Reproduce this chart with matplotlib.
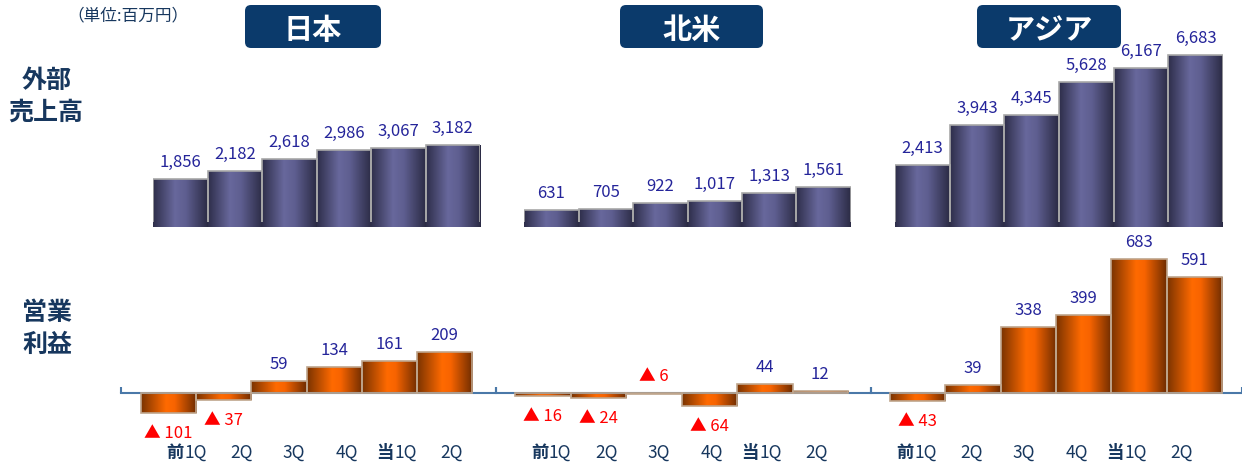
import matplotlib
matplotlib.use('Agg')
import matplotlib.pyplot as plt
import numpy as np
from matplotlib.colors import LinearSegmentedColormap
from matplotlib.patches import FancyBboxPatch

plt.rcParams['font.family'] = ['Noto Sans CJK JP', 'DejaVu Sans']

# data (百万円)
regions = ['日本', '北米', 'アジア']
quarters = ['前1Q', '2Q', '3Q', '4Q', '当1Q', '2Q']
sales_japan = [1856, 2182, 2618, 2986, 3067, 3182]
sales_na = [631, 705, 922, 1017, 1313, 1561]
sales_asia = [2413, 3943, 4345, 5628, 6167, 6683]
profit_japan = [-101, -37, 59, 134, 161, 209]
profit_na = [-16, -24, -6, -64, 44, 12]
profit_asia = [-43, 39, 338, 399, 683, 591]

sales = [sales_japan, sales_na, sales_asia]
profits = [profit_japan, profit_na, profit_asia]

W, H = 1242, 464
NAVY = '#17375E'
VALUE_BLUE = '#25259A'
AXIS_BLUE = '#4A78A8'

# layout in pixels (left, right)
top_x = [(153, 480), (524, 851), (895, 1223)]
bot_x = [(121, 496, 141, 472), (496, 871, 515, 848), (871, 1242, 890, 1222)]
head_x = [(245, 381), (620, 763), (977, 1121)]
tick_x0 = [189, 554, 919]

sales_cmap = LinearSegmentedColormap.from_list(
    'sales', [(0, '#2E2E4A'), (0.4, '#68689C'), (0.6, '#5E5E90'), (1, '#2B2B44')])
profit_cmap = LinearSegmentedColormap.from_list(
    'profit', [(0, '#7A3300'), (0.45, '#FF6A00'), (0.6, '#F86400'), (1, '#6E2C00')])


def rect(x0, x1, y0, y1):
    # pixel box with top-left origin -> figure fraction rect
    return [x0 / W, 1 - y1 / H, (x1 - x0) / W, (y1 - y0) / H]


def gradient_bars(ax, values, cmap, edge):
    bars = ax.bar(range(len(values)), values, width=1.0, facecolor='none',
                  edgecolor=edge, linewidth=1.2, zorder=3)
    grad = np.linspace(0, 1, 256).reshape(1, -1)
    for b in bars:
        x0, y0 = b.get_x(), b.get_y()
        w, h = b.get_width(), b.get_height()
        im = ax.imshow(grad, cmap=cmap, aspect='auto',
                       extent=(x0, x0 + w, y0, y0 + h), zorder=2)
        im.set_clip_path(b)
    return bars


fig = plt.figure(figsize=(W / 100, H / 100), dpi=100)

# top row: sales
s_scale = 0.0257  # px per unit
for k in range(3):
    x0, x1 = top_x[k]
    ax = fig.add_axes(rect(x0, x1, 40, 222.5))
    gradient_bars(ax, sales[k], sales_cmap, '#A8A8A8')
    ax.set_xlim(-0.5, 5.5)
    ax.set_ylim(200, 200 + 182.5 / s_scale)
    ax.axis('off')
    for i, v in enumerate(sales[k]):
        ax.annotate(f'{v:,}', (i, v), xytext=(0, 9), textcoords='offset pixels',
                    ha='center', va='bottom', fontsize=12, color=VALUE_BLUE,
                    annotation_clip=False)

# bottom row: operating profit
p_scale = 0.196
for k in range(3):
    a0, a1, b0, b1 = bot_x[k]
    ax = fig.add_axes(rect(a0, a1, 240, 440))
    gradient_bars(ax, profits[k], profit_cmap, '#BFA58C')
    u = 6 / (b1 - b0)
    ax.set_xlim(-0.5 - (b0 - a0) * u, 5.5 + (a1 - b1) * u)
    ax.set_ylim(-(440 - 394) / p_scale, (394 - 240) / p_scale)
    for s in ['top', 'left', 'right']:
        ax.spines[s].set_visible(False)
    ax.spines['bottom'].set_position(('data', 0))
    ax.spines['bottom'].set_color(AXIS_BLUE)
    ax.spines['bottom'].set_linewidth(1.5)
    ax.set_yticks([])
    ax.set_xticks(list(ax.get_xlim()))
    ax.set_xticklabels([])
    ax.tick_params(axis='x', direction='in', length=4, width=1.5, color=AXIS_BLUE)
    ax.patch.set_visible(False)
    for i, v in enumerate(profits[k]):
        if v >= 0:
            ax.annotate(f'{v}', (i, v), xytext=(0, 9), textcoords='offset pixels',
                        ha='center', va='bottom', fontsize=12, color=VALUE_BLUE,
                        annotation_clip=False)
        elif v > -10:
            ax.annotate(f'▲ {-v}', (i, 0), xytext=(0, 9), textcoords='offset pixels',
                        ha='center', va='bottom', fontsize=12, color='#FF0000',
                        annotation_clip=False)
        else:
            ax.annotate(f'▲ {-v}', (i, v), xytext=(0, -11), textcoords='offset pixels',
                        ha='center', va='top', fontsize=12, color='#FF0000',
                        annotation_clip=False)

    # quarter labels
    for i, q in enumerate(quarters):
        cx = tick_x0[k] + 52.5 * i
        fy = 1 - 453 / H
        if q[0] in '前当':
            split = cx - 5
            fig.text(split / W, fy, q[0], ha='right', va='center', fontsize=12.5,
                     fontweight='bold', color=NAVY)
            fig.text(split / W, fy, q[1:], ha='left', va='center', fontsize=12.5,
                     color=NAVY)
        else:
            fig.text(cx / W, fy, q, ha='center', va='center', fontsize=12.5, color=NAVY)

# region headers
for k in range(3):
    x0, x1 = head_x[k]
    y0, y1 = 6, 49
    r = 6
    box = FancyBboxPatch((x0 / W, 1 - y1 / H), (x1 - x0) / W, (y1 - y0) / H,
                         boxstyle=f'round,pad=0,rounding_size={r / W}',
                         mutation_aspect=W / H, transform=fig.transFigure,
                         facecolor='#0B3A6B', edgecolor='none')
    fig.add_artist(box)
    fig.text((x0 + x1) / 2 / W, 1 - 30 / H, regions[k], ha='center', va='center',
             fontsize=21, fontweight='bold', color='white')

# row titles
for txt, x, y in [('外部', 47, 81.5), ('売上高', 45.5, 112.5),
                  ('営業', 47, 312.5), ('利益', 47, 345)]:
    fig.text(x / W, 1 - y / H, txt, ha='center', va='center', fontsize=18,
             fontweight='bold', color=NAVY)

fig.text(128 / W, 1 - 15.5 / H, '（単位:百万円）', ha='center', va='center',
         fontsize=12, color=NAVY)

fig.savefig('out.png', dpi=100)
